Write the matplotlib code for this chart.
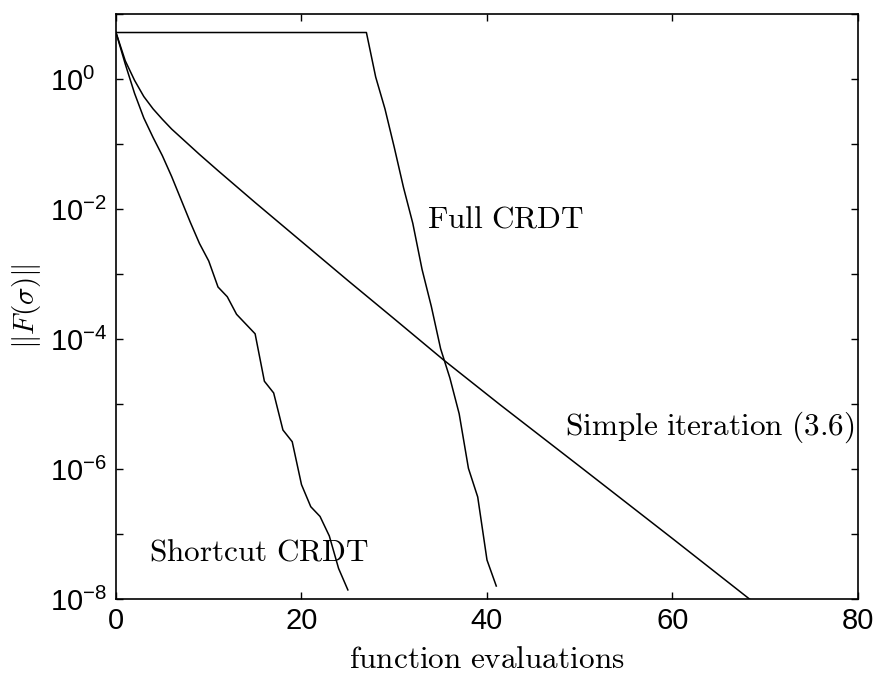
import numpy as np
import matplotlib
matplotlib.use('Agg')
import matplotlib.pyplot as plt
from matplotlib.ticker import FixedLocator, FuncFormatter

plt.rcParams['font.family'] = ['Liberation Sans', 'DejaVu Sans']
plt.rcParams['mathtext.fontset'] = 'cm'

# values (y as log10 of ||F||)
simple_x = [0, 1, 2, 3, 4, 5, 6, 7, 9, 11, 15, 20, 25, 30, 35.3, 41.4, 50, 60, 68.3]
simple_logy = [0.715, 0.28, -0.02, -0.27, -0.46, -0.62, -0.77, -0.9, -1.16, -1.41,
               -1.90, -2.50, -3.10, -3.69, -4.32, -5.01, -5.96, -7.07, -8.0]

full_x = [0, 27, 28, 29, 30, 31, 32, 33, 34, 35, 36, 37, 38, 39, 40, 41]
full_logy = [0.715, 0.715, 0.03, -0.46, -1.05, -1.67, -2.22, -2.93, -3.5, -4.15,
             -4.6, -5.15, -5.99, -6.43, -7.40, -7.8]

short_x = list(range(0, 26))
short_logy = [0.715, 0.23, -0.22, -0.6, -0.9, -1.18, -1.5, -1.85, -2.2, -2.53,
              -2.8, -3.2, -3.35, -3.62, -3.77, -3.92, -4.65, -4.83, -5.40, -5.58,
              -6.24, -6.58, -6.73, -7.03, -7.53, -7.86]

fig = plt.figure(figsize=(8.8, 6.79), dpi=100)
ax = fig.add_axes([0.1318, 0.1178, 0.8432, 0.8616])

for xs, ls in [(simple_x, simple_logy), (full_x, full_logy), (short_x, short_logy)]:
    ax.plot(xs, 10.0 ** np.array(ls), color='black', lw=1.1)

ax.set_yscale('log')
ax.set_xlim(0, 80)
ax.set_ylim(1e-8, 1e1)
ax.set_xticks([0, 20, 40, 60, 80])
ax.yaxis.set_major_locator(FixedLocator([1e-8, 1e-6, 1e-4, 1e-2, 1e0]))
ax.yaxis.set_minor_locator(FixedLocator([1e-7, 1e-5, 1e-3, 1e-1, 1e1]))
ax.yaxis.set_major_formatter(FuncFormatter(
    lambda v, p: r'$\mathregular{10^{%d}}$' % int(round(np.log10(v)))))
ax.yaxis.set_minor_formatter(FuncFormatter(lambda v, p: ''))

ax.tick_params(which='both', direction='in', top=True, right=True,
               length=5, width=1.0, labelsize=21)
ax.tick_params(axis='x', pad=6)
ax.tick_params(axis='y', pad=47.5)
plt.setp(ax.get_yticklabels(), ha='left')
for s in ax.spines.values():
    s.set_linewidth(1.2)

ax.set_xlabel(r'$\mathrm{function\ evaluations}$', fontsize=22.5, labelpad=7)
ax.set_ylabel(r'$\|F(\sigma)\|$', fontsize=21)
ax.yaxis.set_label_coords(-0.098, 0.5)

ax.text(33.5, 10 ** -2.16, r'$\mathrm{Full\ CRDT}$', fontsize=22.5, va='center', ha='left')
ax.text(48.4, 10 ** -5.35, r'$\mathrm{Simple\ iteration\ (3.6)}$', fontsize=22.5,
        va='center', ha='left')
ax.text(3.6, 10 ** -7.29, r'$\mathrm{Shortcut\ CRDT}$', fontsize=22.5, va='center', ha='left')

fig.savefig('out.png', dpi=100)
